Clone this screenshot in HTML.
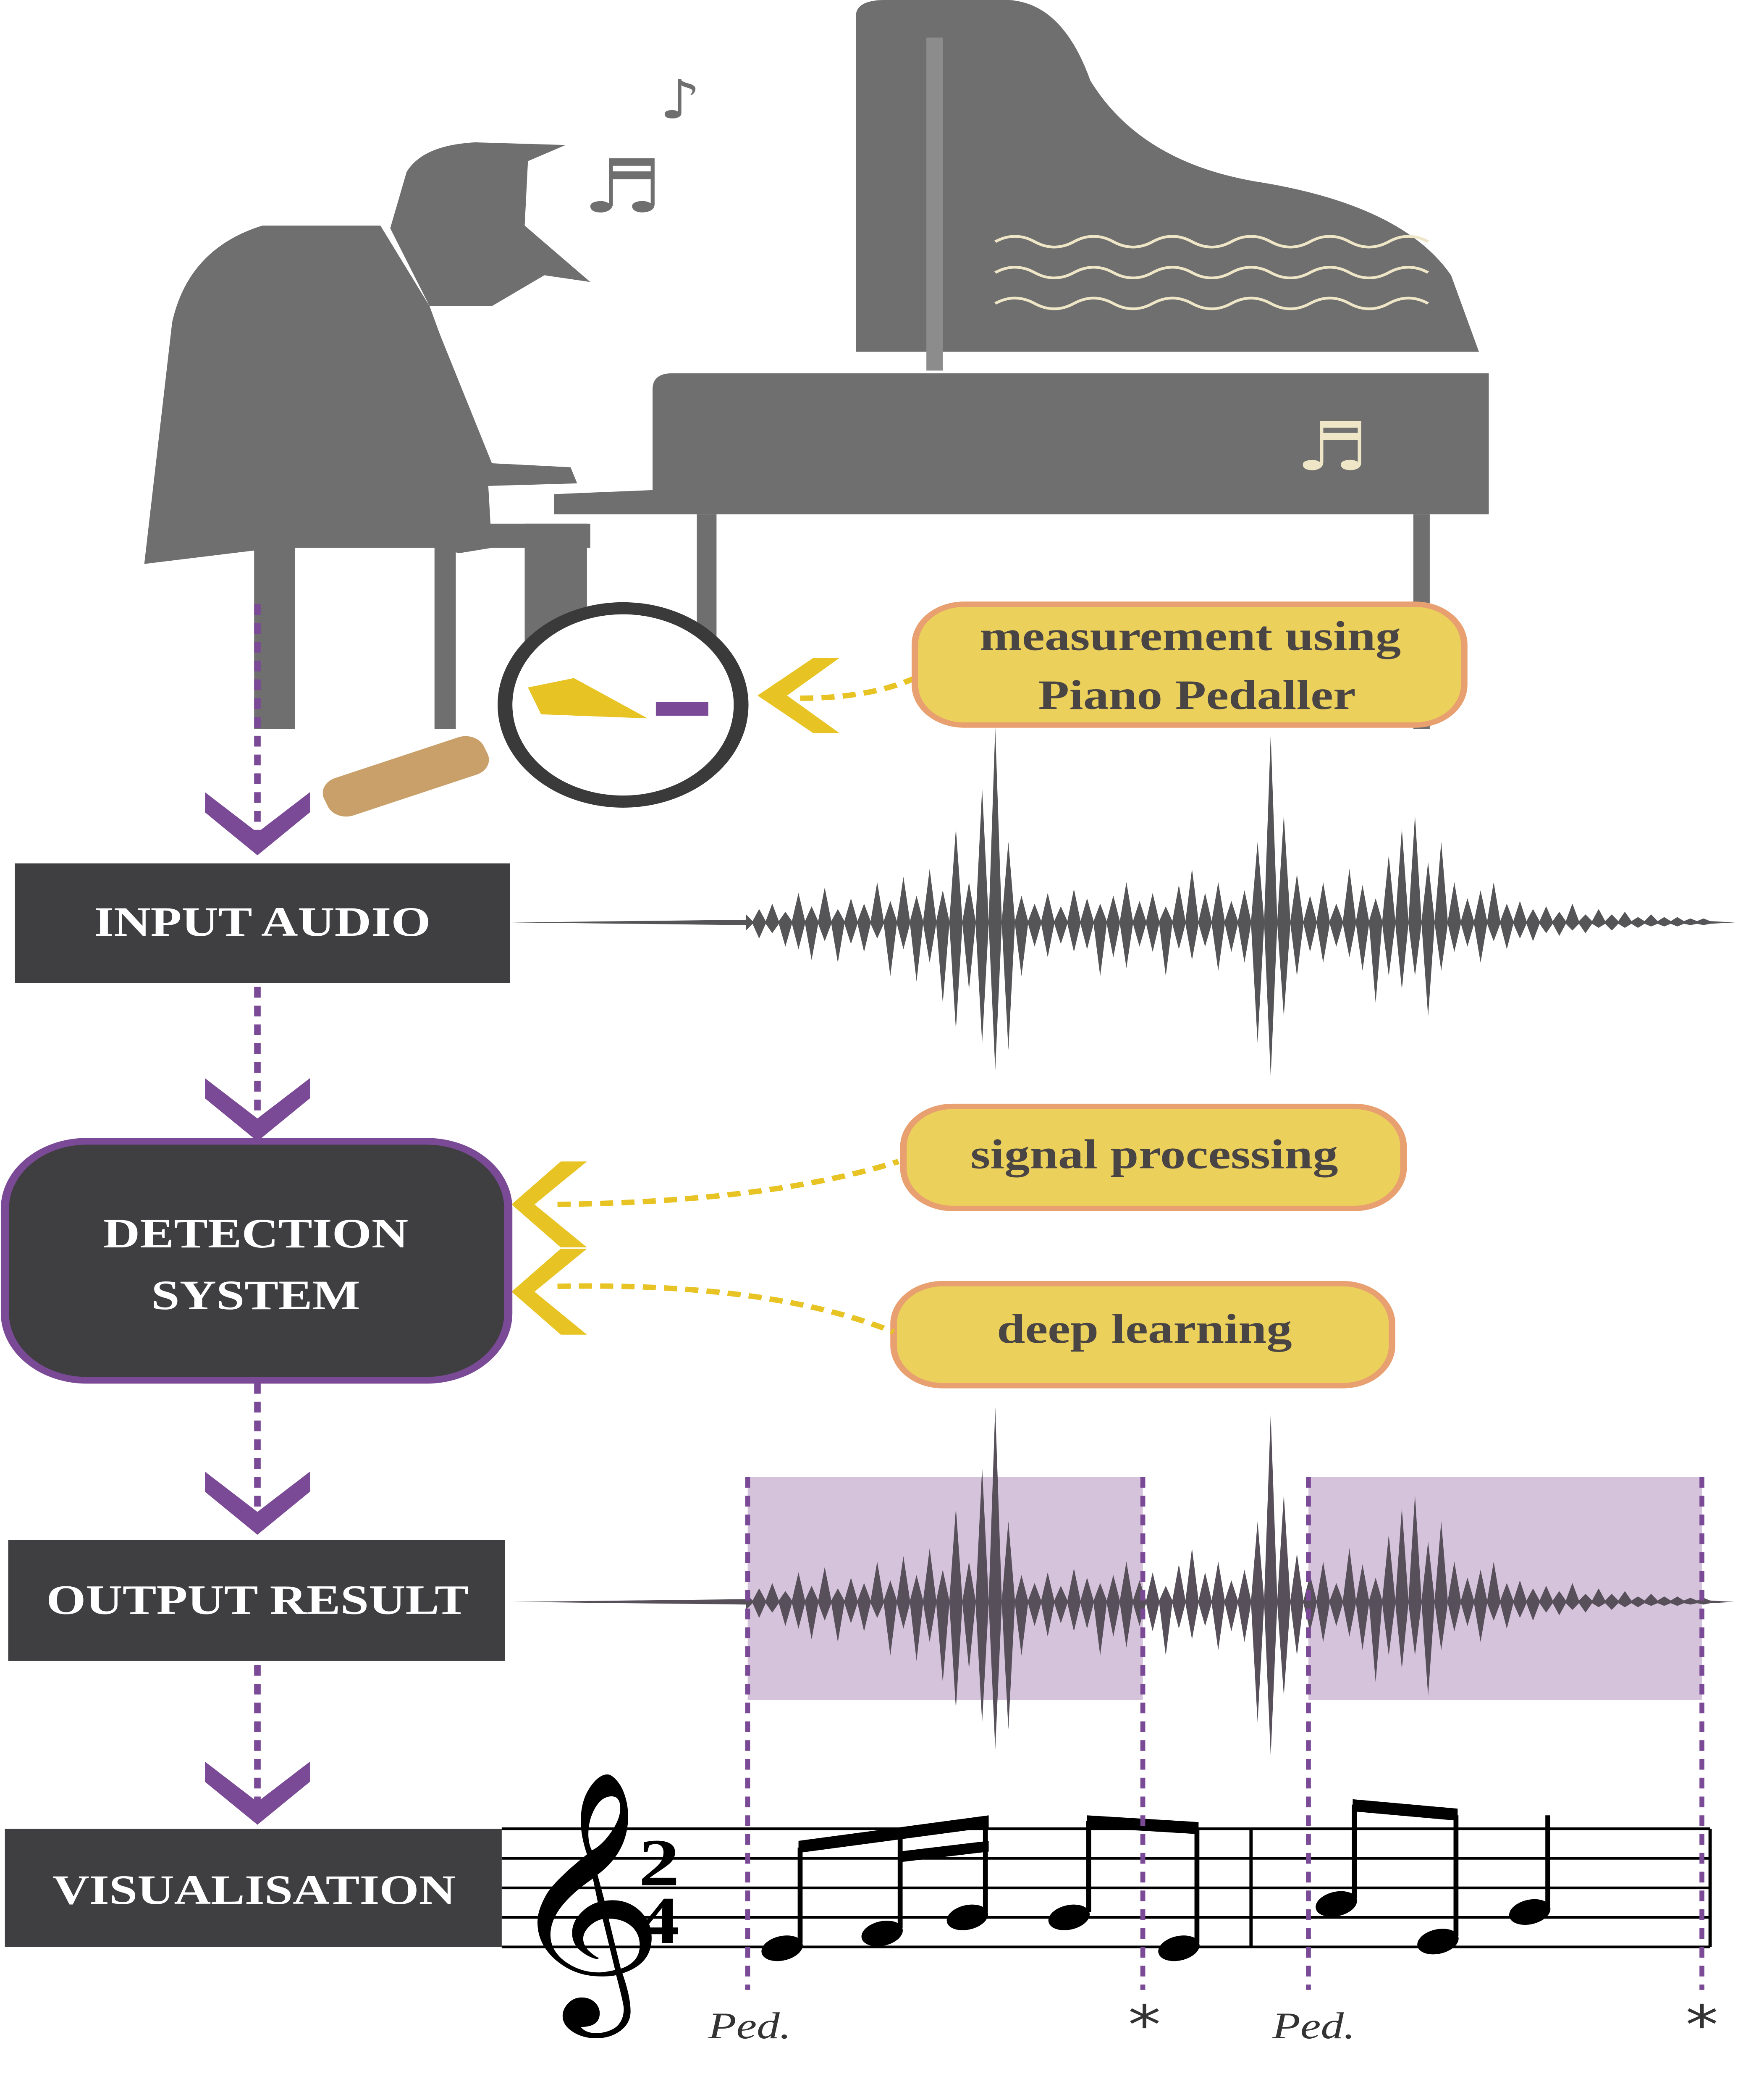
<!DOCTYPE html>
<html><head><meta charset="utf-8">
<style>
html,body{margin:0;padding:0;background:#fff;overflow:hidden;width:100vw;height:100vh;}
svg{display:block;position:absolute;left:0;top:0;width:100vw;height:100vh;}
.bt{font-family:"Liberation Serif",serif;font-weight:bold;fill:#fff;font-size:31px;text-anchor:middle;}
.ct{font-family:"Liberation Serif",serif;font-weight:bold;fill:#4a4545;font-size:31px;text-anchor:middle;}
</style></head>
<body>
<svg id="fig" viewBox="0 0 1060 1564" preserveAspectRatio="none" xmlns="http://www.w3.org/2000/svg">
<rect width="1060" height="1564" fill="#fff"/>
<g fill="#6f6f6f">
<path d="M522,12 Q522,0 540,0 L615,0 Q648,2 665,60 Q695,120 765,135 Q855,152 885,205 L902,262 L522,262 Z"/>
<rect x="565" y="28" width="10" height="248" fill="#8c8c8c"/>
<path d="M398,290 Q398,278 410,278 L908,278 L908,383 L338,383 L338,368 L398,365 Z"/>
<rect x="425" y="383" width="12" height="160"/>
<rect x="862" y="383" width="10" height="160"/>
<g fill="none" stroke="#efe6c8" stroke-width="2">
<path d="M607,180 q12,-8 24,0 t24,0 t24,0 t24,0 t24,0 t24,0 t24,0 t24,0 t24,0 t24,0 t24,0"/>
<path d="M607,203 q12,-8 24,0 t24,0 t24,0 t24,0 t24,0 t24,0 t24,0 t24,0 t24,0 t24,0 t24,0"/>
<path d="M607,226 q12,-8 24,0 t24,0 t24,0 t24,0 t24,0 t24,0 t24,0 t24,0 t24,0 t24,0 t24,0"/>
</g>
<text x="790" y="350" font-size="50" fill="#efe6c8" font-family="DejaVu Sans,sans-serif">♬</text>
</g>
<g fill="#6f6f6f">
<path d="M88,420 L105,240 Q115,185 160,168 L232,168 L262,228 L297,345 L300,408 L280,412 L235,398 L200,406 L155,410 Z"/>
<path d="M238,170 L248,128 Q258,108 290,106 L345,108 L322,120 L320,168 L360,210 L332,205 L300,228 L262,228 Z"/>
<path d="M262,230 L300,345 L348,348 L352,360 L295,362 L275,330 Z"/>
<rect x="135" y="390" width="225" height="18"/>
<rect x="320" y="390" width="38" height="112"/>
<rect x="155" y="405" width="25" height="138"/>
<rect x="265" y="405" width="13" height="138"/>
<text x="355" y="158" font-size="55" font-family="DejaVu Sans,sans-serif">♬</text>
<text x="402" y="88" font-size="40" font-family="DejaVu Sans,sans-serif">♪</text>
</g>
<g>
<rect x="195" y="563" width="105" height="30" rx="12" fill="#c9a06a" transform="rotate(-22 248 578)"/>
<circle cx="380" cy="525" r="72" fill="#fff" stroke="#3a3a3a" stroke-width="9"/>
<polygon points="322,512 350,505 395,535 330,532" fill="#e7c324"/>
<rect x="400" y="523" width="32" height="10" fill="#7b4a96"/>
</g>
<polygon points="512,490 480,518 512,546 496,546 462,518 496,490" fill="#e7c324"/>
<path d="M488,520 Q530,520 558,505" fill="none" stroke="#e7c324" stroke-width="4" stroke-dasharray="8,5"/>
<g>
<rect x="558" y="450" width="335" height="90" rx="30" fill="#ecd05c" stroke="#e8a070" stroke-width="4"/>
<text class="ct" x="726" y="484">measurement using</text>
<text class="ct" x="730" y="528">Piano Pedaller</text>
</g>
<g>
<rect x="551" y="824" width="305" height="76" rx="30" fill="#ecd05c" stroke="#e8a070" stroke-width="4"/>
<text class="ct" x="704" y="870">signal processing</text>
</g>
<g>
<rect x="545" y="956" width="304" height="76" rx="30" fill="#ecd05c" stroke="#e8a070" stroke-width="4"/>
<text class="ct" x="698" y="1000">deep learning</text>
</g>
<path d="M340,897 Q470,895 548,865" fill="none" stroke="#e7c324" stroke-width="4" stroke-dasharray="8,5"/>
<path d="M340,958 Q470,955 545,992" fill="none" stroke="#e7c324" stroke-width="4" stroke-dasharray="8,5"/>
<polygon points="358,865 326,897 358,929 342,929 312,897 342,865" fill="#e7c324"/>
<polygon points="358,930 326,962 358,994 342,994 312,962 342,930" fill="#e7c324"/>
<g stroke="#7b4a96" stroke-width="4" stroke-dasharray="8,6" fill="none">
<line x1="157" y1="450" x2="157" y2="630"/>
<line x1="157" y1="735" x2="157" y2="840"/>
<line x1="157" y1="1030" x2="157" y2="1135"/>
<line x1="157" y1="1240" x2="157" y2="1350"/>
</g>
<g fill="#7b4a96">
<polygon points="125,590 157,620 189,590 189,605 157,637 125,605"/>
<polygon points="125,803 157,833 189,803 189,818 157,850 125,818"/>
<polygon points="125,1096 157,1126 189,1096 189,1111 157,1143 125,1111"/>
<polygon points="125,1312 157,1342 189,1312 189,1327 157,1359 125,1327"/>
</g>
<g><rect x="9" y="643" width="302" height="89" fill="#3f3e40"/><text class="bt" x="160" y="697">INPUT AUDIO</text></g>
<g><rect x="3" y="850" width="307" height="178" rx="50" fill="#3f3e40" stroke="#7b4a96" stroke-width="5"/><text class="bt" x="156" y="929">DETECTION</text><text class="bt" x="156" y="975">SYSTEM</text></g>
<g><rect x="5" y="1147" width="303" height="90" fill="#3f3e40"/><text class="bt" x="157" y="1202">OUTPUT RESULT</text></g>
<g><rect x="3" y="1362" width="303" height="88" fill="#3f3e40"/><text class="bt" x="155" y="1418">VISUALISATION</text></g>
<rect x="456" y="1100" width="241" height="166" fill="#d5c3dc"/>
<rect x="798" y="1100" width="240" height="166" fill="#d5c3dc"/>
<g id="waves"></g>
<g stroke="#000" stroke-width="2">
<line x1="306" y1="1362" x2="1043" y2="1362"/><line x1="306" y1="1384" x2="1043" y2="1384"/>
<line x1="306" y1="1406" x2="1043" y2="1406"/><line x1="306" y1="1428" x2="1043" y2="1428"/>
<line x1="306" y1="1450" x2="1043" y2="1450"/>
<line x1="763" y1="1362" x2="763" y2="1450"/><line x1="1043" y1="1362" x2="1043" y2="1450"/>
</g>
<text x="308" y="1470" font-size="165" font-family="DejaVu Sans,sans-serif">𝄞</text>
<text x="402" y="1404" font-size="50" font-weight="bold" text-anchor="middle" font-family="Liberation Serif,serif">2</text>
<text x="402" y="1447" font-size="50" font-weight="bold" text-anchor="middle" font-family="Liberation Serif,serif">4</text>
<g fill="#000" stroke="#000">
<g stroke="none">
<ellipse cx="477" cy="1451" rx="13" ry="9" transform="rotate(-20 477 1451)"/>
<ellipse cx="538" cy="1440" rx="13" ry="9" transform="rotate(-20 538 1440)"/>
<ellipse cx="590" cy="1428" rx="13" ry="9" transform="rotate(-20 590 1428)"/>
<ellipse cx="652" cy="1428" rx="13" ry="9" transform="rotate(-20 652 1428)"/>
<ellipse cx="719" cy="1451" rx="13" ry="9" transform="rotate(-20 719 1451)"/>
<ellipse cx="815" cy="1418" rx="13" ry="9" transform="rotate(-20 815 1418)"/>
<ellipse cx="877" cy="1446" rx="13" ry="9" transform="rotate(-20 877 1446)"/>
<ellipse cx="933" cy="1424" rx="13" ry="9" transform="rotate(-20 933 1424)"/>
</g>
<g stroke-width="3">
<line x1="488" y1="1447" x2="488" y2="1376"/><line x1="549" y1="1436" x2="549" y2="1368"/>
<line x1="601" y1="1424" x2="601" y2="1356"/><line x1="664" y1="1424" x2="664" y2="1356"/>
<line x1="730" y1="1447" x2="730" y2="1361"/><line x1="826" y1="1414" x2="826" y2="1344"/>
<line x1="888" y1="1442" x2="888" y2="1352"/><line x1="944" y1="1420" x2="944" y2="1352"/>
</g>
<g stroke="none">
<polygon points="487,1371 603,1352 603,1361 487,1380"/>
<polygon points="548,1379 603,1371 603,1379 548,1387"/>
<polygon points="663,1352 731,1357 731,1366 663,1361"/>
<polygon points="825,1340 889,1347 889,1356 825,1349"/>
</g>
</g>
<g stroke="#7b4a96" stroke-width="3" stroke-dasharray="8,6">
<line x1="456" y1="1100" x2="456" y2="1482"/><line x1="697" y1="1100" x2="697" y2="1482"/>
<line x1="798" y1="1100" x2="798" y2="1482"/><line x1="1038" y1="1100" x2="1038" y2="1482"/>
</g>
<g font-family="Liberation Serif,serif" font-style="italic" font-size="28" fill="#333">
<text x="432" y="1518">Ped.</text>
<text x="776" y="1518">Ped.</text>
</g>
<g font-family="DejaVu Sans,sans-serif" font-size="40" fill="#333" text-anchor="middle">
<text x="698" y="1522">*</text>
<text x="1038" y="1522">*</text>
</g>
</svg>
<script>
const upAmp=[6,10,14,8,22,12,26,10,18,14,30,16,34,20,40,24,70,30,100,145,60,20,14,22,12,25,18,14,20,30,16,22,12,28,40,22,30,16,24,60,140,80,36,20,30,14,40,28,18,50,70,80,45,60,30,18,24,30,14,16,10,12,8,14,6,10,6,8,4,6,4,4,3,3];
const dnAmp=[6,12,8,18,20,28,14,30,16,22,12,40,20,44,30,60,80,50,90,110,95,40,18,26,16,22,20,40,26,34,18,22,40,20,28,18,36,22,30,90,115,70,40,22,30,18,26,36,60,40,50,40,70,36,22,18,30,14,20,12,14,8,10,6,8,4,6,4,4,3,3,3,2,2];
const svgNS='http://www.w3.org/2000/svg';
function wave(cy,color,name){
  let p='M312,'+cy+' L455,'+(cy-2);
  upAmp.forEach((a,i)=>{const x=455+i*8;p+=' L'+x+','+(cy-a)+' L'+(x+4)+','+(cy-1);});
  p+=' L1058,'+cy;
  for(let i=dnAmp.length-1;i>=0;i--){const x=455+i*8;p+=' L'+(x+4)+','+(cy+1)+' L'+x+','+(cy+dnAmp[i]);}
  p+=' L455,'+(cy+2)+' Z';
  const el=document.createElementNS(svgNS,'path');
  el.setAttribute('d',p);el.setAttribute('fill',color);
  
  
  document.getElementById('waves').appendChild(el);
}
wave(687,'#555558','input-waveform');
wave(1193,'#57505a','output-waveform');
</script>
</body></html>
